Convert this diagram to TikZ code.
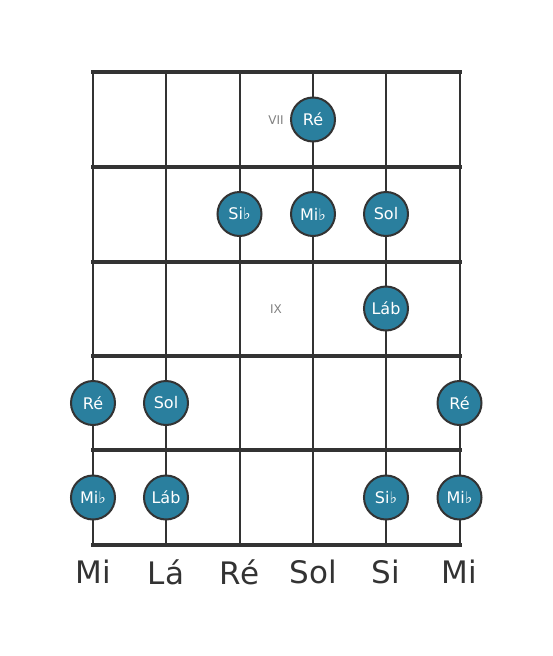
\documentclass[tikz,border=0pt]{standalone}
\usepackage{fontspec}
\setmainfont{DejaVu Sans}
\definecolor{lineC}{HTML}{333333}
\definecolor{noteC}{HTML}{2A7F9E}
\definecolor{romC}{HTML}{808080}
\begin{document}
\begin{tikzpicture}[x=1pt,y=-1pt,
  fretline/.style={draw=lineC,line width=4pt},
  stringline/.style={draw=lineC,line width=2pt},
  note/.style={circle,fill=noteC,draw=lineC,line width=2pt,minimum size=44pt,inner sep=0pt,text=white,font=\fontsize{16}{16}\selectfont},
  roman/.style={text=romC,font=\fontsize{12}{12}\selectfont},
  strlabel/.style={text=lineC,font=\fontsize{31}{31}\selectfont}]
\useasboundingbox (0,0) rectangle (553,656);
\foreach \x [count=\i] in {93,166,239.5,313,386,459.5}{
  \coordinate (st\i) at (\x,72);
  \coordinate (sb\i) at (\x,545);
  \draw[stringline] (st\i) -- (sb\i);
}
\foreach \y [count=\j] in {72,167,261.5,356,450,545}{
  \coordinate (fl\j) at (93,\y);
  \coordinate (fr\j) at (459.5,\y);
  \draw[fretline,line cap=rect] (fl\j) -- (fr\j);
}
\node[roman] (r7) at (276,120.5) {VII};
\node[roman] (r9) at (276,309.5) {IX};
\node[note] (n1) at (313,119.5) {Ré};
\node[note] (n2) at (239.5,214) {Si♭};
\node[note] (n3) at (313,214) {Mi♭};
\node[note] (n4) at (386,214) {Sol};
\node[note] (n5) at (386,308.5) {Láb};
\node[note] (n6) at (93,403) {Ré};
\node[note] (n7) at (166,403) {Sol};
\node[note] (n8) at (459.5,403) {Ré};
\node[note] (n9) at (93,497.5) {Mi♭};
\node[note] (n10) at (166,497.5) {Láb};
\node[note] (n11) at (386,497.5) {Si♭};
\node[note] (n12) at (459.5,497.5) {Mi♭};
\foreach \x/\t [count=\k] in {93/Mi,166/Lá,239.5/Ré,313/Sol,386/Si,459.5/Mi}{
  \node[strlabel] (l\k) at (\x,572) {\t};
}
\end{tikzpicture}
\end{document}
